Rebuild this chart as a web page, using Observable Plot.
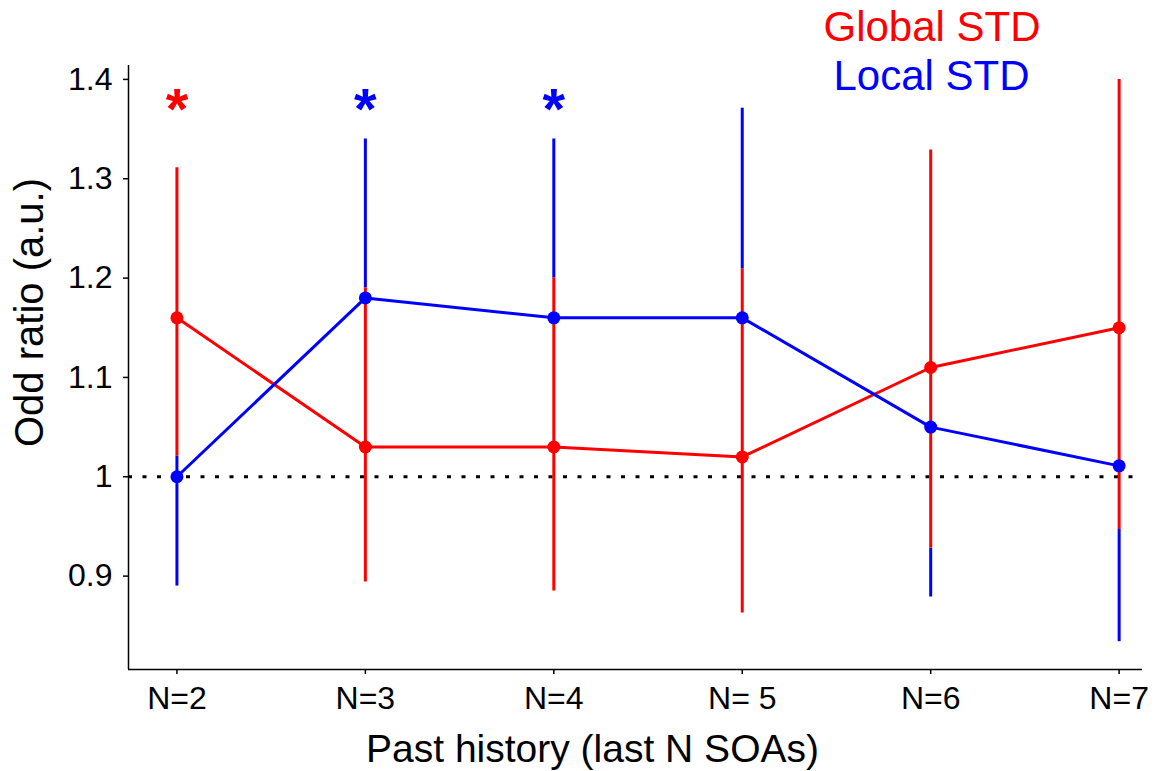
<!DOCTYPE html>
<html><head><meta charset="utf-8">
<script src="https://cdn.jsdelivr.net/npm/d3@7"></script>
<script src="https://cdn.jsdelivr.net/npm/@observablehq/plot@0.6"></script>
<style>body{margin:0;background:#fff;}</style>
</head><body><div id="chart"></div>
<script>
// ---- data ----
const N = [2, 3, 4, 5, 6, 7];
const tickLabels = ["N=2", "N=3", "N=4", "N= 5", "N=6", "N=7"];
const globalMean = [1.16, 1.03, 1.03, 1.02, 1.11, 1.15];
const globalLow  = [1.021, 0.894, 0.885, 0.863, 0.928, 0.947];
const globalHigh = [1.311, 1.19, 1.20, 1.209, 1.329, 1.40];
const localMean  = [1.00, 1.18, 1.16, 1.16, 1.05, 1.011];
const localLow   = [0.89, 1.19, 1.20, 1.209, 0.879, 0.834];
const localHigh  = [1.021, 1.34, 1.34, 1.371, 0.928, 0.947];
const starN = [2, 3, 4];
const starSeries = ["Global STD", "Local STD", "Local STD"];
const starLevel = 1.375;
const yTicks = [0.9, 1, 1.1, 1.2, 1.3, 1.4];
const yTickLabels = ["0.9", "1", "1.1", "1.2", "1.3", "1.4"];
const seriesNames = ["Global STD", "Local STD"];
const seriesColors = ["#ff0000", "#0000ff"];
const refLevel = [1];
const xDomain = [1.743, 7.124];
const yDomain = [0.806, 1.414];

const globalRows = N.map((n, i) => ({n, mean: globalMean[i], low: globalLow[i], high: globalHigh[i]}));
const localRows = N.map((n, i) => ({n, mean: localMean[i], low: localLow[i], high: localHigh[i]}));
const stars = starN.map((n, i) => ({n, series: starSeries[i], y: starLevel}));
const RED = seriesColors[0], BLUE = seriesColors[1];

const chart = Plot.plot({
  width: 1161,
  height: 771,
  marginLeft: 128,
  marginRight: 19,
  marginTop: 65,
  marginBottom: 102,
  style: {fontSize: "32px", fontFamily: "'Liberation Sans', Arial, sans-serif", color: "black", background: "white"},
  x: {domain: xDomain},
  y: {domain: yDomain},
  color: {domain: seriesNames, range: seriesColors},
  marks: [
    Plot.ruleY(refLevel, {stroke: "black", strokeWidth: 3, strokeDasharray: "4,10.5"}),
    Plot.ruleX(localRows, {x: "n", y1: "low", y2: "high", stroke: BLUE, strokeWidth: 3}),
    Plot.ruleX(globalRows, {x: "n", y1: "low", y2: "high", stroke: RED, strokeWidth: 3}),
    Plot.line(globalRows, {x: "n", y: "mean", stroke: RED, strokeWidth: 3}),
    Plot.dot(globalRows, {x: "n", y: "mean", r: 6.5, fill: RED}),
    Plot.line(localRows, {x: "n", y: "mean", stroke: BLUE, strokeWidth: 3}),
    Plot.dot(localRows, {x: "n", y: "mean", r: 6.5, fill: BLUE}),
    Plot.text(stars, {x: "n", y: "y", text: () => "*", fill: "series", fontSize: 58, fontWeight: "bold", dy: 6}),
    Plot.ruleX([xDomain[0]], {stroke: "black", strokeWidth: 1.5}),
    Plot.ruleY([yDomain[0]], {stroke: "black", strokeWidth: 1.5}),
    Plot.axisX(N, {tickFormat: d => tickLabels[N.indexOf(d)], tickSize: 5, tickPadding: 12, label: null, strokeWidth: 1.5, fontSize: 32}),
    Plot.axisY(yTicks, {tickFormat: d => yTickLabels[yTicks.indexOf(d)], tickSize: 5, tickPadding: 11, label: null, strokeWidth: 1.5, fontSize: 32}),
    Plot.text(["Odd ratio (a.u.)"], {frameAnchor: "left", textAnchor: "middle", lineAnchor: "middle", rotate: -90, text: d => d, fontSize: 40, dx: -98.8, dy: -55}),
    Plot.text(["Past history (last N SOAs)"], {frameAnchor: "bottom", textAnchor: "middle", lineAnchor: "middle", text: d => d, fontSize: 39, dx: -43, dy: 80.5}),
    Plot.text([seriesNames[0]], {frameAnchor: "top", textAnchor: "middle", lineAnchor: "middle", text: d => d, fill: RED, fontSize: 42, dx: 296.5, dy: -37.5}),
    Plot.text([seriesNames[1]], {frameAnchor: "top", textAnchor: "middle", lineAnchor: "middle", text: d => d, fill: BLUE, fontSize: 42, dx: 296, dy: 11.5})
  ]
});
document.getElementById("chart").appendChild(chart);
</script>
</body></html>
